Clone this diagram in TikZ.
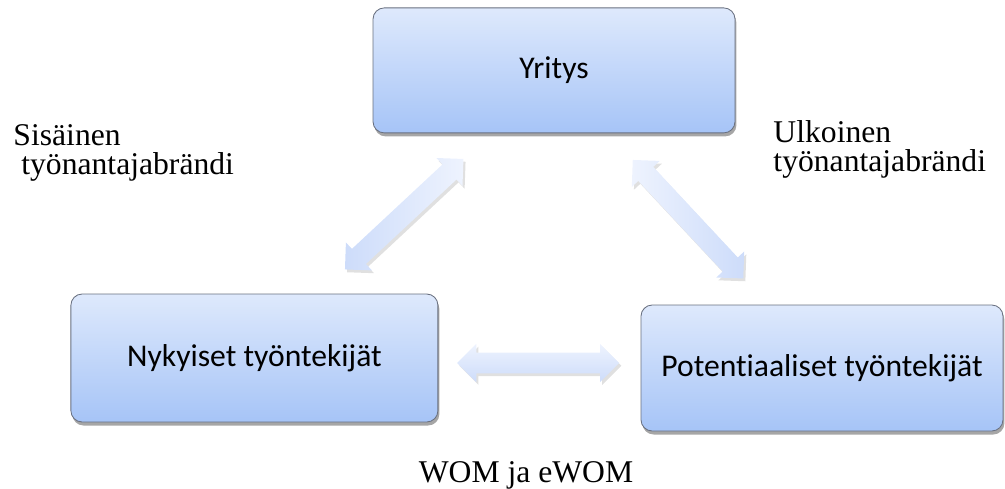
\documentclass[tikz,border=0pt]{standalone}
\usepackage{fontspec}
\setmainfont{Liberation Serif}
\newfontfamily\boxfont[Ligatures=NoCommon]{Carlito}
\usetikzlibrary{shapes.arrows,shadows,calc}

\definecolor{boxtop}{RGB}{222,233,252}
\definecolor{boxbottom}{RGB}{166,196,247}
\definecolor{boxline}{RGB}{105,112,128}
\definecolor{arrowlight}{RGB}{238,243,254}
\definecolor{arrowdark}{RGB}{205,220,250}

\begin{document}
\begin{tikzpicture}[
    labelfont/.style={font=\fontsize{22.5}{21}\selectfont},
    box/.style={
        draw=boxline,
        line width=0.6pt,
        rounded corners=8pt,
        top color=boxtop,
        bottom color=boxbottom,
        align=center,
        font=\boxfont\fontsize{22.5}{27}\selectfont,
        drop shadow={shadow xshift=1pt, shadow yshift=-2.5pt, fill=black, opacity=0.35}
    },
    blockarrow/.style={
        double arrow,
        double arrow head extend=0.22cm,
        double arrow tip angle=90,
        minimum height=4.05cm,
        inner xsep=0pt,
        inner ysep=0.25cm,
        drop shadow={shadow xshift=1.5pt, shadow yshift=-2pt, fill=black, opacity=0.12}
    },
    sidelabel/.style={
        labelfont,
        align=left,
        inner sep=0pt,
        anchor=north west
    }
]
\useasboundingbox (0,0) rectangle (25.125,12.2);

% Boxes
\node[box, minimum width=9.05cm, minimum height=3.125cm] (yritys) at (13.85,10.44) {Yritys};
\node[box, minimum width=9.175cm, minimum height=3.2cm] (nykyiset) at (6.36,3.25) {Nykyiset työntekijät};
\node[box, minimum width=9.05cm, minimum height=3.15cm] (potentiaaliset) at (20.55,3.0) {Potentiaaliset työntekijät};

% Two-way arrows between the boxes
\node[blockarrow, rotate=43, left color=arrowdark, right color=arrowlight]
    (sisainenarrow) at ($(yritys)!0.5!(nykyiset)$) {};
\node[blockarrow, rotate=-47, left color=arrowlight, right color=arrowdark]
    (ulkoinenarrow) at ($(yritys)!0.5!(potentiaaliset)$) {};
\node[blockarrow, top color=arrowlight, bottom color=arrowdark]
    (womarrow) at ($(nykyiset)!0.5!(potentiaaliset)$) {};

% Labels
\node[sidelabel] (sisainen) at (0.33,9.1) {Sisäinen\\\hspace{0.25em}työnantajabrändi};
\node[sidelabel] (ulkoinen) at (19.33,9.2) {Ulkoinen\\työnantajabrändi};
\node[labelfont, inner sep=0pt, anchor=base] (wom) at (13.15,0.15) {WOM ja eWOM};

\end{tikzpicture}
\end{document}
